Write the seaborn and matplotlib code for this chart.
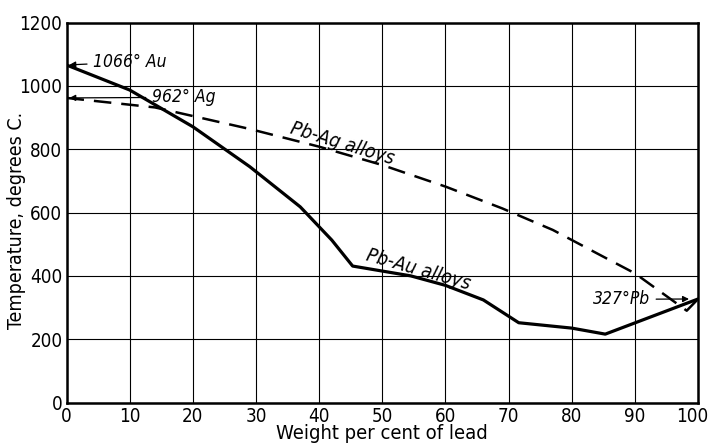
import pandas as pd
import seaborn as sns
import matplotlib.pyplot as plt
from matplotlib.transforms import ScaledTranslation

# Pb-Au liquidus (solid line)
au_lead = [0, 10, 20, 29, 37, 42, 45.3, 54.5, 60, 66, 71.6, 80, 85.3, 100]
au_temp = [1066, 987, 871, 745, 618, 513, 431, 400, 370, 324, 252, 235, 216, 327]

# Pb-Ag liquidus (dashed line)
ag_lead = [0, 14, 29, 40, 50, 60, 69, 77, 84, 90, 98.2, 100]
ag_temp = [962, 932, 864, 808, 750, 682, 613, 545, 471, 408, 290, 327]

x_ticks = list(range(0, 101, 10))
y_ticks = list(range(0, 1201, 200))

au = pd.DataFrame({"lead": au_lead, "temp": au_temp})
ag = pd.DataFrame({"lead": ag_lead, "temp": ag_temp})

sns.set_style("white")
plt.rcParams["font.family"] = ["DejaVu Sans"]
plt.rcParams["font.stretch"] = "condensed"
for k in ["text.color", "axes.labelcolor", "xtick.color", "ytick.color"]:
    plt.rcParams[k] = "black"

fig = plt.figure(figsize=(7.08, 4.47), dpi=100)
ax = fig.add_axes([0.094, 0.0995, 0.892, 0.85])

sns.lineplot(data=au, x="lead", y="temp", color="black", lw=2.3, ax=ax,
             sort=False, estimator=None)
sns.lineplot(data=ag, x="lead", y="temp", color="black", lw=1.8, ax=ax,
             sort=False, estimator=None)
ax.lines[-1].set_dashes([7, 4])

ax.set_xlim(0, 100)
ax.set_ylim(0, 1200)
ax.set_xticks(x_ticks)
ax.set_yticks(y_ticks)
ax.grid(True, color="black", lw=0.8)
ax.tick_params(length=0, labelsize=13.5, pad=3)
last = ax.get_xticklabels()[-1]
last.set_transform(last.get_transform() + ScaledTranslation(-4 / 72, 0, fig.dpi_scale_trans))
for s in ax.spines.values():
    s.set_color("black")
    s.set_linewidth(1.8)

ax.set_xlabel("Weight per cent of lead", fontsize=14.5, labelpad=-1)
ax.set_ylabel("Temperature, degrees C.", fontsize=14)
ax.yaxis.set_label_coords(-0.064, 0.48)

arw = dict(arrowstyle="-|>", color="black", lw=0.9, mutation_scale=9)
ax.annotate("1066° Au", xy=(0, 1066), xytext=(4.2, 1075), style="italic",
            fontsize=12.5, va="center", ha="left", arrowprops=arw)
ax.annotate("962° Ag", xy=(0, 962), xytext=(13.5, 964), style="italic",
            fontsize=12.5, va="center", ha="left", arrowprops=arw)
ax.annotate("327°Pb", xy=(99, 327), xytext=(92.4, 326), style="italic",
            fontsize=12.5, va="center", ha="right", arrowprops=arw)

ax.text(43.6, 818, "Pb-Ag alloys", style="italic", fontsize=14,
        rotation=-17, ha="center", va="center")
ax.text(55.7, 420, "Pb-Au alloys", style="italic", fontsize=14,
        rotation=-16, ha="center", va="center")

fig.savefig("out.png", dpi=100)
